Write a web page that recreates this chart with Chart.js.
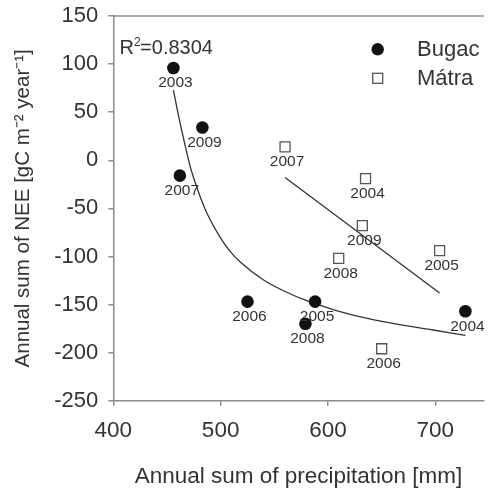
<!DOCTYPE html>
<html>
<head>
<meta charset="utf-8">
<script src="https://cdn.jsdelivr.net/npm/chart.js@4.4.1/dist/chart.umd.min.js"></script>
<style>
html,body{margin:0;padding:0;background:#fff;}
#wrap{width:492px;height:488px;position:relative;}
</style>
</head>
<body>
<div id="wrap"><canvas id="c"></canvas></div>
<script>
// ---- data ----
const bugacYears  = [2003, 2007, 2009, 2006, 2008, 2005, 2004];
const bugacPrecip = [456, 462, 483, 525, 579, 588, 728];
const bugacNEE    = [96, -16, 34, -147, -170, -147, -157];

const matraYears  = [2007, 2004, 2009, 2008, 2005, 2006];
const matraPrecip = [560, 635, 632, 610, 704, 650];
const matraNEE    = [14, -19, -68, -102, -94, -196];

// trend curve (Bugac)
const bugacFitX = [456, 461, 467, 472, 477.5, 483, 488, 500, 509, 518.5, 540, 561, 579, 607, 643, 698, 728];
const bugacFitY = [73, 45, 15, -8, -27, -44, -57, -81, -95, -106, -124.5, -137, -145.5, -156, -166, -176.5, -182];
// trend line (Mátra)
const matraFitX = [560, 704];
const matraFitY = [-18, -138];

const xTicks = [400, 500, 600, 700];
const yTicks = [150, 100, 50, 0, -50, -100, -150, -200, -250];
const rSquared = "0.8304";

const FONT = "'Liberation Sans', Arial, sans-serif";
const TXT = '#333333';
const AX = '#8c8c8c';

const pts = (xs, ys) => xs.map((x, i) => ({x: x, y: ys[i]}));

const extras = {
  id: 'extras',
  afterDraw(chart) {
    const ctx = chart.ctx, a = chart.chartArea;
    ctx.save();
    // top frame line
    ctx.strokeStyle = AX; ctx.lineWidth = 1.5;
    ctx.beginPath(); ctx.moveTo(a.left, a.top); ctx.lineTo(a.right, a.top); ctx.stroke();
    // year labels under points
    ctx.fillStyle = TXT;
    ctx.font = "15.5px " + FONT;
    ctx.textAlign = 'center'; ctx.textBaseline = 'middle';
    [[0, bugacYears], [1, matraYears]].forEach(([di, yrs]) => {
      const meta = chart.getDatasetMeta(di);
      meta.data.forEach((el, i) => {
        ctx.fillText(String(yrs[i]), el.x + 2, el.y + 15);
      });
    });
    // R^2 text
    ctx.textAlign = 'left'; ctx.textBaseline = 'alphabetic';
    ctx.font = "20px " + FONT;
    let x = 119.5, y = 53.5;
    ctx.fillText('R', x, y); x += ctx.measureText('R').width;
    ctx.font = "12px " + FONT;
    ctx.fillText('2', x, y - 8); x += ctx.measureText('2').width - 0.5;
    ctx.font = "20px " + FONT;
    ctx.fillText('=' + rSquared, x, y);
    // legend
    ctx.font = "22px " + FONT;
    ctx.textBaseline = 'middle';
    ctx.fillStyle = '#111';
    ctx.beginPath(); ctx.arc(377.7, 49.3, 6.2, 0, Math.PI * 2); ctx.fill();
    ctx.fillStyle = '#fff'; ctx.strokeStyle = '#555'; ctx.lineWidth = 1.3;
    ctx.fillRect(372.7, 73.3, 10, 10); ctx.strokeRect(372.7, 73.3, 10, 10);
    ctx.fillStyle = TXT;
    ctx.fillText(chart.data.datasets[0].label, 417, 50);
    ctx.fillText(chart.data.datasets[1].label, 417, 79);
    ctx.restore();
  }
};

new Chart(document.getElementById('c'), {
  type: 'scatter',
  data: {
    datasets: [
      {label: 'Bugac', data: pts(bugacPrecip, bugacNEE), pointStyle: 'circle', pointRadius: 6.3,
       backgroundColor: '#111', borderColor: '#111', borderWidth: 0, order: 1},
      {label: 'Mátra', data: pts(matraPrecip, matraNEE), pointStyle: 'rect', pointRadius: 7.07,
       backgroundColor: '#fff', borderColor: '#555', borderWidth: 1.3, order: 0},
      {label: 'fitB', data: pts(bugacFitX, bugacFitY), showLine: true, pointRadius: 0,
       borderColor: '#333', borderWidth: 1.3, cubicInterpolationMode: 'monotone', fill: false, order: 2},
      {label: 'fitM', data: pts(matraFitX, matraFitY), showLine: true, pointRadius: 0,
       borderColor: '#333', borderWidth: 1.3, fill: false, order: 2}
    ]
  },
  options: {
    responsive: true, maintainAspectRatio: false, animation: false,
    layout: {padding: {top: 16, right: 0, left: 0, bottom: 0}},
    plugins: {legend: {display: false}, tooltip: {enabled: false}},
    scales: {
      x: {
        type: 'linear', min: 400, max: 745,
        afterFit(s) { s.height = 87.3; s.paddingLeft = 0; s.paddingRight = 0; },
        afterBuildTicks(s) { s.ticks = xTicks.map(v => ({value: v})); },
        ticks: {includeBounds: false, color: TXT, font: {family: FONT, size: 22.5}, padding: 11.5, maxRotation: 0},
        grid: {drawOnChartArea: false, drawTicks: true, tickLength: 5, color: AX, lineWidth: 1.5},
        border: {display: true, color: AX, width: 1.5},
        title: {display: true, text: 'Annual sum of precipitation [mm]', color: TXT,
                font: {family: FONT, size: 22.5}, padding: {top: 0, bottom: -2}}
      },
      y: {
        type: 'linear', min: -250, max: 150,
        afterFit(s) { s.width = 113.3; s.paddingTop = 0; s.paddingBottom = 0; },
        afterBuildTicks(s) { s.ticks = yTicks.map(v => ({value: v})); },
        ticks: {color: TXT, font: {family: FONT, size: 22}, padding: 10},
        grid: {drawOnChartArea: false, drawTicks: true, tickLength: 5, color: AX, lineWidth: 1.5},
        border: {display: true, color: AX, width: 1.5},
        title: {display: true, text: 'Annual sum of NEE [gC m⁻² year⁻¹]', color: TXT,
                font: {family: FONT, size: 20.5}, padding: {top: 11, bottom: 0}}
      }
    }
  },
  plugins: [extras]
});
</script>
</body>
</html>
